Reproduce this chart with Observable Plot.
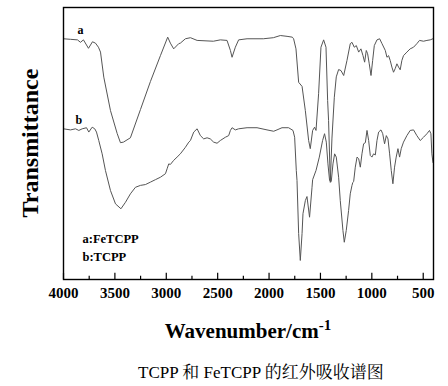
<!DOCTYPE html>
<html><head><meta charset="utf-8">
<script src="https://cdn.jsdelivr.net/npm/d3@7"></script>
<script src="https://cdn.jsdelivr.net/npm/@observablehq/plot@0.6"></script>
<style>body{margin:0;background:#fff;} svg{display:block;}</style>
</head><body><div id="chart"></div>
<script>
// Spectrum a: FeTCPP  [wavenumber cm-1, transmittance (a.u.)]
const seriesA = [
[4000,88.5],[3932,88.3],[3864,88.1],[3835,87.2],[3806,88.1],[3757,85.0],[3718,87.4],[3689,86.9],[3660,85.4],
[3640,83.6],[3608,74.4],[3543,62.1],[3478,53.7],[3446,50.3],[3417,50.5],[3349,52.1],[3251,62.5],[3154,72.8],
[3057,82.3],[2986,89.1],[2960,86.9],[2928,84.8],[2879,86.7],[2863,86.9],[2814,88.5],[2765,88.9],[2700,87.9],
[2542,87.6],[2474,88.1],[2409,87.9],[2376,84.2],[2360,81.7],[2328,85.4],[2296,88.1],[2214,88.5],[2056,88.5],
[1958,88.9],[1890,89.7],[1825,89.4],[1774,89.1],[1761,88.5],[1738,84.8],[1712,72.5],[1679,71.0],[1647,62.1],
[1615,51.1],[1599,48.1],[1576,54.8],[1557,56.0],[1543,54.8],[1518,68.3],[1495,85.4],[1469,88.1],[1446,85.4],
[1430,65.8],[1421,58.5],[1404,35.7],[1388,52.0],[1365,67.0],[1346,74.5],[1323,77.2],[1300,76.8],[1274,75.0],
[1242,80.5],[1210,86.7],[1193,87.2],[1171,85.4],[1151,86.0],[1128,83.6],[1106,84.8],[1086,82.3],[1070,79.9],
[1054,84.2],[1041,83.0],[1025,79.3],[1008,75.0],[992,80.5],[976,86.0],[950,88.1],[924,88.5],[901,86.7],
[869,84.2],[853,81.7],[837,82.3],[821,80.5],[805,78.1],[789,76.2],[773,77.5],[756,79.3],[740,78.1],[724,77.1],
[708,80.5],[692,82.3],[659,83.6],[627,84.8],[594,85.4],[562,86.7],[536,87.9],[497,87.6],[464,87.9],[432,88.1],[406,88.5]
];
// Spectrum b: TCPP
const seriesB = [
[4000,55.4],[3932,55.0],[3883,55.4],[3851,54.8],[3818,55.4],[3776,55.8],[3754,54.2],[3721,56.0],[3696,55.4],
[3679,54.2],[3657,51.1],[3624,46.2],[3592,40.1],[3543,32.7],[3494,27.8],[3441,26.0],[3397,28.4],[3349,31.5],
[3300,33.9],[3251,34.6],[3203,34.9],[3154,35.8],[3106,36.7],[3057,37.6],[3008,38.9],[2992,40.7],[2976,42.5],
[2960,42.3],[2928,43.8],[2895,45.0],[2863,46.2],[2814,48.6],[2781,50.5],[2765,51.1],[2733,54.2],[2700,55.4],
[2668,52.9],[2636,51.7],[2603,52.1],[2572,51.7],[2539,50.5],[2506,50.1],[2474,51.1],[2425,52.3],[2393,52.9],
[2376,54.8],[2360,55.8],[2328,55.0],[2296,55.4],[2214,55.8],[2117,55.8],[2020,55.0],[1955,54.5],[1923,55.0],
[1874,55.8],[1810,55.8],[1767,54.8],[1751,52.3],[1735,40.1],[1728,36.4],[1712,16.9],[1696,7.0],[1679,16.9],
[1670,24.2],[1647,29.0],[1631,30.5],[1606,22.9],[1582,33.9],[1576,36.7],[1543,40.1],[1511,45.0],[1479,51.1],
[1460,53.6],[1443,50.5],[1427,42.5],[1411,36.4],[1395,36.0],[1378,42.5],[1362,46.2],[1346,45.0],[1323,37.6],
[1307,29.0],[1281,18.0],[1268,13.7],[1249,18.0],[1226,25.4],[1210,31.5],[1193,34.6],[1185,35.7],[1177,36.0],
[1161,41.3],[1144,45.0],[1128,44.4],[1112,41.3],[1096,46.2],[1080,49.9],[1063,50.3],[1047,54.8],[1031,51.1],
[1015,45.6],[999,45.0],[983,46.2],[966,45.8],[950,51.1],[934,54.2],[911,55.0],[894,53.6],[876,49.9],[859,52.9],
[843,51.7],[827,46.2],[811,40.1],[795,35.2],[779,41.3],[763,45.0],[746,48.1],[730,45.0],[714,48.1],[692,50.5],
[659,52.9],[627,54.8],[594,55.0],[562,52.9],[529,51.1],[497,52.3],[464,53.6],[439,54.8],[425,53.6],[416,46.2],[405,43.0]
];
const xDomain = [4000, 400];
const majorTicks = [4000, 3500, 3000, 2500, 2000, 1500, 1000, 500];
const minorTicks = [3750, 3250, 2750, 2250, 1750, 1250, 750];
const legendLines = ["a:FeTCPP", "b:TCPP"];
const curveLabels = ["a", "b"];
const yLabel = "Transmittance";
const xLabel = "Wavenumber/cm";
const xLabelSup = "-1";
const caption = "TCPP 和 FeTCPP 的红外吸收谱图";

const serif = "'Liberation Serif','Times New Roman',serif";
const toRows = s => s.map(([x, y]) => ({x, y}));

const svg = Plot.plot({
  width: 448, height: 386,
  marginLeft: 63, marginRight: 15, marginTop: 7, marginBottom: 107,
  style: {fontFamily: serif, background: "#fff"},
  x: {domain: xDomain},
  y: {domain: [0, 100], axis: null},
  marks: [
    Plot.line(toRows(seriesA), {x: "x", y: "y", stroke: "#555", strokeWidth: 1}),
    Plot.line(toRows(seriesB), {x: "x", y: "y", stroke: "#555", strokeWidth: 1}),
    Plot.ruleX(majorTicks, {y1: 0, y2: 2.3, stroke: "#000", strokeWidth: 1.2}),
    Plot.ruleX(minorTicks, {y1: 0, y2: 1.2, stroke: "#000", strokeWidth: 1.2}),
    Plot.axisX({ticks: majorTicks, tickSize: 0, tickPadding: 8, tickFormat: "d",
      fontSize: 15, fontWeight: "bold", label: null, fill: "#000"}),
    Plot.frame({stroke: "#000", strokeWidth: 1.4}),
    Plot.text([curveLabels[0]], {frameAnchor: "top-left", dx: 14, dy: 26, fontSize: 12, fontWeight: "bold", textAnchor: "start", lineAnchor: "bottom", fill: "#000"}),
    Plot.text([curveLabels[1]], {frameAnchor: "top-left", dx: 12, dy: 116, fontSize: 12, fontWeight: "bold", textAnchor: "start", lineAnchor: "bottom", fill: "#000"}),
    Plot.text([legendLines[0]], {frameAnchor: "bottom-left", dx: 19, dy: -37, fontSize: 12.5, fontWeight: "bold", textAnchor: "start", lineAnchor: "bottom", fill: "#000"}),
    Plot.text([legendLines[1]], {frameAnchor: "bottom-left", dx: 19, dy: -19, fontSize: 12.5, fontWeight: "bold", textAnchor: "start", lineAnchor: "bottom", fill: "#000"})
  ]
});

const s = d3.select(svg);
s.append("text")
  .attr("transform", "translate(38,143) rotate(-90)")
  .attr("text-anchor", "middle")
  .style("font", `bold 24px ${serif}`)
  .attr("fill", "#000")
  .text(yLabel);
const xl = s.append("text")
  .attr("x", 248).attr("y", 338)
  .attr("text-anchor", "middle")
  .style("font", `bold 21px ${serif}`)
  .attr("fill", "#000");
xl.append("tspan").text(xLabel);
xl.append("tspan").attr("dy", -8).style("font-size", "15px").text(xLabelSup);
s.append("text")
  .attr("x", 261).attr("y", 378)
  .attr("text-anchor", "middle")
  .style("font", `17px 'Liberation Serif','Noto Serif CJK SC','Noto Sans CJK SC',serif`)
  .attr("fill", "#000")
  .text(caption);

document.getElementById("chart").appendChild(svg);
</script>
</body></html>
